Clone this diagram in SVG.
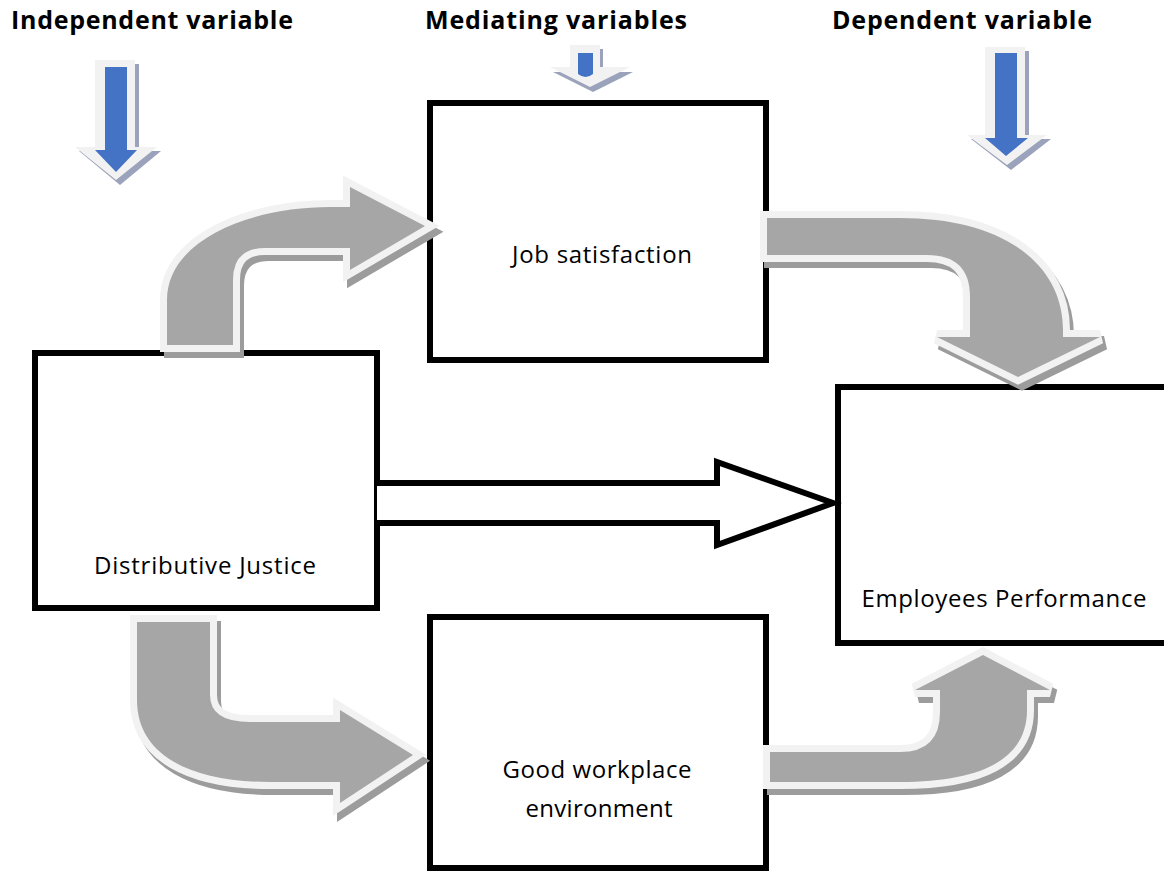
<svg xmlns="http://www.w3.org/2000/svg" width="1164" height="873" viewBox="0 0 1164 873">
<style>
.box{fill:#fff;stroke:#000;stroke-width:6}
.lbl{font-family:"Open Sans","Liberation Sans",Arial,sans-serif;font-size:24px;fill:#000;text-anchor:middle}
.hdr{font-family:"Open Sans","Liberation Sans",Arial,sans-serif;font-size:25px;font-weight:bold;fill:#000;text-anchor:middle}
.g{fill:#a6a6a6;stroke:#f2f2f2;stroke-width:14;stroke-linejoin:miter;paint-order:stroke}
.gs{fill:#999;stroke:#9c9c9c;stroke-width:14;stroke-linejoin:miter}
.bo{fill:#f2f2f2}
.bs{fill:#9aa3bb}
.bi{fill:#4472c4}
</style>
<rect width="1164" height="873" fill="#fff"/>
<g id="headers">
<text class="hdr" x="152" y="29" textLength="282">Independent variable</text>
<text class="hdr" x="556" y="29" textLength="262">Mediating variables</text>
<text class="hdr" x="962" y="29" textLength="260">Dependent variable</text>
</g>
<g id="indicators">
<g id="ind-left">
<polygon class="bs" points="99,64 139,64 139,151 161,151 120,185 79,151 99,151"/>
<polygon class="bo" points="95,60 135,60 135,147 157,147 116,180 75,147 95,147"/>
<polygon class="bi" points="105,67 127,67 127,150 137,150 116,172 95,150 105,150"/>
</g>
<g id="ind-mid">
<polygon class="bs" points="573,49 603,49 603,72 633,72 593,92 553,72 573,72"/>
<polygon class="bo" points="570,45 600,45 600,67 630,67 590,87 550,67 570,67"/>
<path class="bi" d="M578,53 L593,53 L593,74 Q585.5,80 578,74 Z"/>
</g>
<g id="ind-right">
<polygon class="bs" points="989,51 1029,51 1029,139 1051,139 1011,170 971,139 989,139"/>
<polygon class="bo" points="985,47 1025,47 1025,135 1047,135 1007,165 967,135 985,135"/>
<polygon class="bi" points="995,53 1017,53 1017,138 1028,138 1006,156 985,138 995,138"/>
</g>
</g>
<g id="node-job">
<rect class="box" x="430" y="103" width="336" height="257"/>
<text class="lbl" x="602" y="263" textLength="180">Job satisfaction</text>
</g>
<g id="node-dj">
<rect class="box" x="35" y="353" width="342" height="255"/>
<text class="lbl" x="205" y="574" textLength="222">Distributive Justice</text>
</g>
<g id="node-ep">
<rect class="box" x="838" y="387" width="340" height="256"/>
<text class="lbl" x="1004" y="607" textLength="285">Employees Performance</text>
</g>
<g id="node-gwe">
<rect class="box" x="430" y="617" width="336" height="251"/>
<text class="lbl" x="597" y="778" textLength="189">Good workplace</text>
<text class="lbl" x="599" y="817" textLength="147">environment</text>
</g>
<g id="connectors">
<g id="c-dj-job">
<path class="gs" transform="translate(4,6)" d="M167,345 L167,300 C167,240 250,207 330,207 L350,207 L350,187 L425,226 L350,270 L350,248 L265,248 Q233,248 233,280 L233,345 Z"/>
<path class="g" d="M167,345 L167,300 C167,240 250,207 330,207 L350,207 L350,187 L425,226 L350,270 L350,248 L265,248 Q233,248 233,280 L233,345 Z"/>
</g>
<g id="c-job-ep">
<path class="gs" transform="translate(4,6)" d="M767,218 L900,218 C1005,218 1063,265 1063,330 L1063,337 L1100,337 L1018,377 L937,337 L970,337 L970,297 Q970,255 927,255 L767,255 Z"/>
<path class="g" d="M767,218 L900,218 C1005,218 1063,265 1063,330 L1063,337 L1100,337 L1018,377 L937,337 L970,337 L970,297 Q970,255 927,255 L767,255 Z"/>
</g>
<g id="c-dj-gwe">
<path class="gs" transform="translate(4,6)" d="M137,622 L210,622 L210,695 Q210,722 250,722 L340,722 L340,710 L413,755 L340,803 L340,782 L270,782 C190,782 137,755 137,700 Z"/>
<path class="g" d="M137,622 L210,622 L210,695 Q210,722 250,722 L340,722 L340,710 L413,755 L340,803 L340,782 L270,782 C190,782 137,755 137,700 Z"/>
</g>
<g id="c-gwe-ep">
<path class="gs" transform="translate(4,6)" d="M770,752 L900,752 Q940,752 940,712 L940,690 L915,690 L983,655 L1050,690 L1027,690 L1027,710 C1027,760 980,782 900,782 L770,782 Z"/>
<path class="g" d="M770,752 L900,752 Q940,752 940,712 L940,690 L915,690 L983,655 L1050,690 L1027,690 L1027,710 C1027,760 980,782 900,782 L770,782 Z"/>
</g>
<polyline id="c-dj-ep" points="377,483 717,483 717,462 833,503 717,545 717,523 377,523" fill="#fff" stroke="#000" stroke-width="6" stroke-linejoin="miter"/>
</g>
</svg>
